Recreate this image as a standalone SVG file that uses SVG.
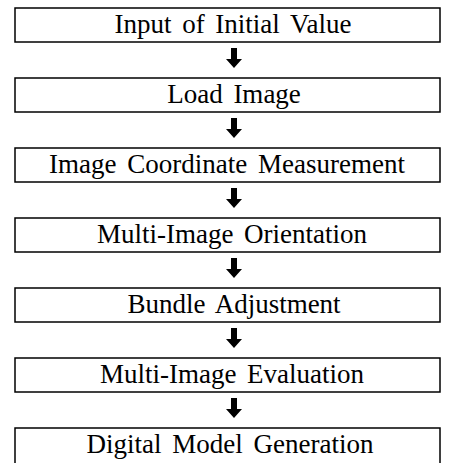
<svg xmlns="http://www.w3.org/2000/svg" width="453" height="463" viewBox="0 0 453 463">
<defs>
<style>
.box{fill:#fff;stroke:#000;stroke-width:1.5}
.lbl{font-family:"Liberation Serif","Times New Roman",serif;font-size:27px;fill:#000;text-anchor:middle;word-spacing:4px}
.arr{fill:#000}
</style>
<path id="ar" class="arr" d="M231,0 H237 V11 H242 L234,20 L226,11 H231 Z"/>
</defs>
<rect width="453" height="463" fill="#fff"/>
<g id="n1"><rect class="box" x="15" y="8" width="425" height="34"/><text class="lbl" x="233" y="33">Input of Initial Value</text></g>
<g id="n2"><rect class="box" x="15" y="78" width="425" height="34"/><text class="lbl" x="234" y="103">Load Image</text></g>
<g id="n3"><rect class="box" x="15" y="148" width="425" height="34"/><text class="lbl" x="227" y="173">Image Coordinate Measurement</text></g>
<g id="n4"><rect class="box" x="15" y="218" width="425" height="34"/><text class="lbl" x="232" y="243">Multi-Image Orientation</text></g>
<g id="n5"><rect class="box" x="15" y="288" width="425" height="34"/><text class="lbl" x="234" y="313">Bundle Adjustment</text></g>
<g id="n6"><rect class="box" x="15" y="358" width="425" height="34"/><text class="lbl" x="232" y="383">Multi-Image Evaluation</text></g>
<g id="n7"><rect class="box" x="15" y="428" width="425" height="40"/><text class="lbl" x="230" y="453">Digital Model Generation</text></g>
<g id="connectors">
<use href="#ar" y="48"/>
<use href="#ar" y="118"/>
<use href="#ar" y="188"/>
<use href="#ar" y="258"/>
<use href="#ar" y="328"/>
<use href="#ar" y="398"/>
</g>
</svg>
